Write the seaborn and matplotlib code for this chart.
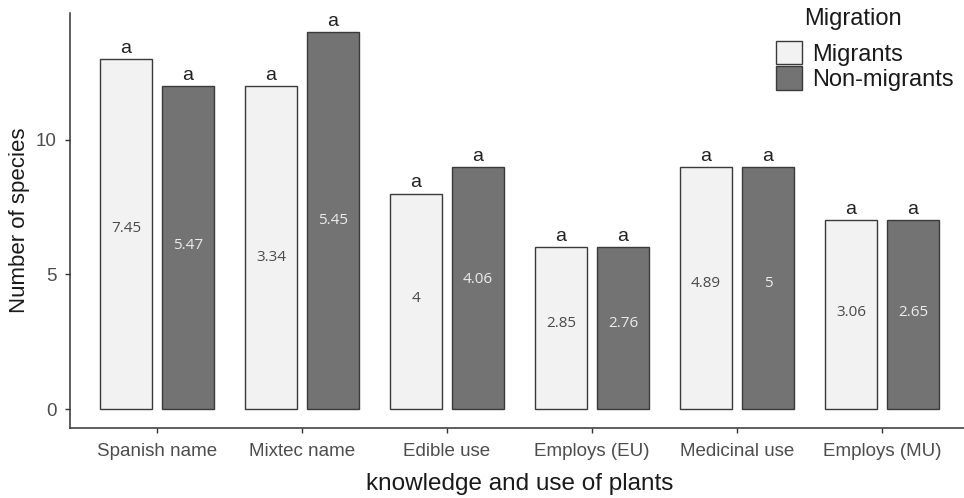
import matplotlib
matplotlib.use("Agg")
import matplotlib.pyplot as plt
from matplotlib.patches import Patch
import seaborn as sns
import pandas as pd

# Knowledge and use of plants: species counts per group
categories = ["Spanish name", "Mixtec name", "Edible use", "Employs (EU)",
              "Medicinal use", "Employs (MU)"]
migrants = [13, 12, 8, 6, 9, 7]
non_migrants = [12, 14, 9, 6, 9, 7]
# mean values printed inside the bars
migrants_mean = ["7.45", "3.34", "4", "2.85", "4.89", "3.06"]
non_migrants_mean = ["5.47", "5.45", "4.06", "2.76", "5", "2.65"]
# vertical placement of the printed means
migrants_mean_y = [6.71, 5.63, 4.09, 3.17, 4.65, 3.60]
non_migrants_mean_y = [6.09, 6.99, 4.80, 3.17, 4.65, 3.60]
# significance letters
migrants_letter = ["a"] * 6
non_migrants_letter = ["a"] * 6

groups = ["Migrants", "Non-migrants"]

df = pd.DataFrame({
    "category": categories * 2,
    "Migration": [groups[0]] * len(categories) + [groups[1]] * len(categories),
    "species": migrants + non_migrants,
})

sns.set_style("white")
plt.rcParams["font.family"] = ["Liberation Sans", "DejaVu Sans"]

fig = plt.figure(figsize=(9.64, 4.98), dpi=100)
ax = fig.add_axes([70 / 964, 70 / 498, 899 / 964, 415 / 498])

palette = {"Migrants": "#f2f2f2", "Non-migrants": "#737373"}
sns.barplot(data=df, x="category", y="species", hue="Migration",
            order=categories, hue_order=groups, palette=palette,
            width=0.853, gap=0.168, edgecolor="#3a3a3a", linewidth=1.0,
            saturation=1, ax=ax, legend=False)

label_sets = [
    (migrants_mean, migrants_mean_y, migrants_letter, "#4a4a4a"),
    (non_migrants_mean, non_migrants_mean_y, non_migrants_letter, "#ececec"),
]
for container, (means, ys, letters, tcol) in zip(ax.containers, label_sets):
    for bar, m, yv, let in zip(container, means, ys, letters):
        xc = bar.get_x() + bar.get_width() / 2
        h = bar.get_height()
        ax.text(xc, yv, m, ha="center", va="center", fontsize=11,
                color=tcol, family=["Open Sans", "DejaVu Sans"])
        ax.annotate(let, (xc, h), xytext=(0, 1.5), textcoords="offset points",
                    ha="center", va="bottom", fontsize=14, color="#222222")

ax.set_xlim(-0.6, 5.6)
ax.set_ylim(-0.7, 14.7)
ax.set_yticks([0, 5, 10])
ax.set_xlabel("knowledge and use of plants", fontsize=17.5, color="#1a1a1a",
              labelpad=10)
ax.set_ylabel("Number of species", fontsize=16, color="#1a1a1a", labelpad=4)
ax.tick_params(axis="both", which="both", direction="out", length=3.5,
               width=1, color="#333333", labelcolor="#4d4d4d",
               labelsize=13.5, bottom=True, left=True)
ax.tick_params(axis="x", pad=7)
ax.tick_params(axis="y", pad=6)
for side in ["top", "right"]:
    ax.spines[side].set_visible(False)
for side in ["left", "bottom"]:
    ax.spines[side].set_color("#333333")
    ax.spines[side].set_linewidth(1.1)
ax.grid(False)

# legend
handles = [Patch(facecolor=palette[g], edgecolor="#3a3a3a", linewidth=1.0,
                 label=g) for g in groups]
leg = fig.legend(handles=handles, loc="upper left",
                 bbox_to_anchor=(776 / 964, 1 - 41 / 498), frameon=False,
                 fontsize=17, handlelength=1.1, handleheight=1.15,
                 labelspacing=0.02, handletextpad=0.45, borderpad=0,
                 borderaxespad=0)
for t in leg.get_texts():
    t.set_color("#1a1a1a")
fig.text(804 / 964, 1 - 19 / 498, "Migration", ha="left", va="center",
         fontsize=17, color="#1a1a1a")

fig.savefig("out.png", dpi=100)
